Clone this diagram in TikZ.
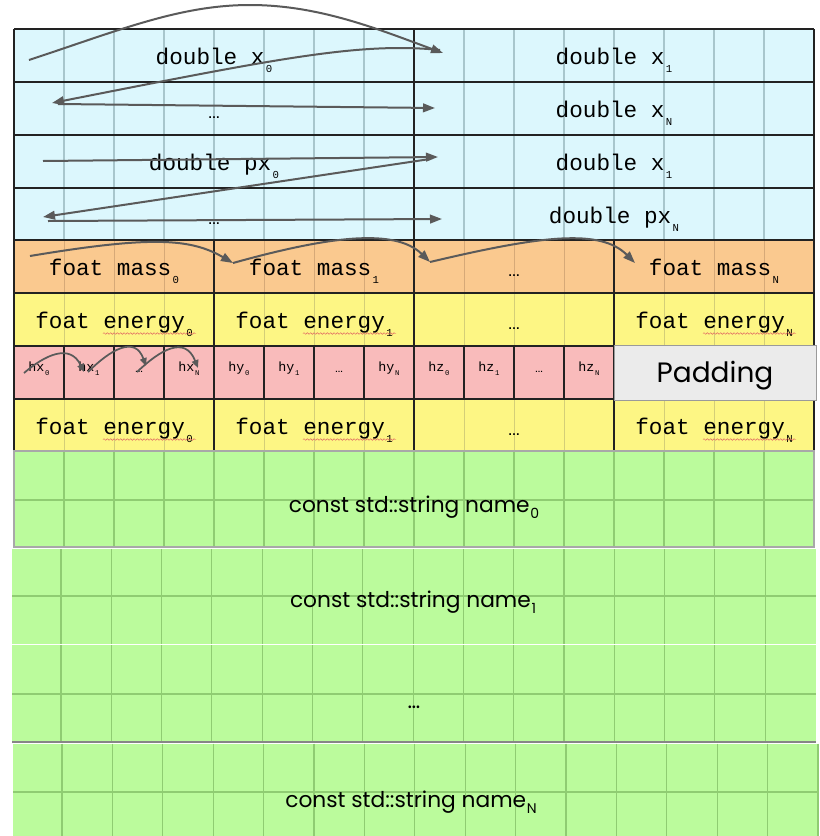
\documentclass[tikz,border=0pt]{standalone}
\usepackage{fontspec}
\setmainfont{Poppins}
\newfontfamily\monof{Liberation Mono}
\newfontfamily\sansf{Liberation Sans}
\usetikzlibrary{arrows.meta,decorations.pathmorphing}
\definecolor{cyanfill}{HTML}{DCF7FD}
\definecolor{cyangrid}{HTML}{A8C6CC}
\definecolor{orangefill}{HTML}{FAC98F}
\definecolor{orangegrid}{HTML}{D6A978}
\definecolor{yellowfill}{HTML}{FDF684}
\definecolor{yellowgrid}{HTML}{D4CE78}
\definecolor{pinkfill}{HTML}{F9BBBB}
\definecolor{greenfill}{HTML}{BBFB9C}
\definecolor{greengrid}{HTML}{8FCC72}
\definecolor{padfill}{HTML}{EBEBEB}
\definecolor{padline}{HTML}{9A9A9A}
\definecolor{cellline}{HTML}{222222}
\definecolor{arrowc}{HTML}{5A5A5A}
\definecolor{wavyred}{HTML}{E06060}
\definecolor{gborder}{HTML}{A8A8A8}
\newcommand\msub[1]{\kern1pt\raisebox{-6pt}{\fontsize{8}{8}\selectfont #1}}
\newcommand\psub[1]{\kern0.5pt\raisebox{-3pt}{\fontsize{5.5}{5.5}\selectfont #1}}
\newcommand\gsub[1]{\kern0.5pt\raisebox{-5pt}{\fontsize{10.5}{10.5}\selectfont #1}}
\tikzset{
 mono/.style={font=\monof\fontsize{17}{17}\selectfont, inner sep=0pt, anchor=base},
 pmono/.style={font=\monof\fontsize{10}{10}\selectfont, inner sep=0pt, anchor=base},
 dotsm/.style={font=\sansf\bfseries\fontsize{9}{9}\selectfont, inner sep=0pt, anchor=base},
 pdots/.style={font=\sansf\bfseries\fontsize{6}{6}\selectfont, inner sep=0pt, anchor=base},
 gtext/.style={font=\fontsize{16.3}{16.3}\selectfont, inner sep=0pt, anchor=base},
 flow/.style={draw=arrowc, line width=1.5pt, -{Triangle[length=9pt,width=6.5pt]}},
 pflow/.style={draw=arrowc, line width=1.3pt, -{Triangle[length=6pt,width=5pt]}},
 cell/.style={draw=cellline, line width=0.9pt},
 wavy/.style={draw=wavyred, line width=0.35pt, decorate, decoration={snake, amplitude=0.6pt, segment length=2.5pt}},
}
\begin{document}
\begin{tikzpicture}[x=0.75pt,y=-0.75pt]
\useasboundingbox (0,0) rectangle (819,836);
\fill[white] (0,0) rectangle (819,836);
% fills
\fill[cyanfill] (14,29) rectangle (814,240);
\fill[orangefill] (14,240) rectangle (814,293);
\fill[yellowfill] (14,293) rectangle (814,346);
\fill[pinkfill] (14,346) rectangle (614,399);
\fill[yellowfill] (14,399) rectangle (814,451);
% grids
\foreach \x in {64,114,...,764} {
  \draw[cyangrid, line width=0.8pt] (\x,29) -- (\x,240);
  \draw[orangegrid, line width=0.6pt] (\x,240) -- (\x,293);
  \draw[yellowgrid, line width=0.6pt] (\x,293) -- (\x,346);
  \draw[yellowgrid, line width=0.6pt] (\x,399) -- (\x,451);
}
% cell lines
\foreach \y in {29,82,135,188,240,293,346,399,451} \draw[cell] (14,\y) -- (814,\y);
\draw[cell] (14,29) -- (14,451);
\draw[cell] (814,29) -- (814,451);
\draw[cell] (414,29) -- (414,240);
\foreach \x in {214,414,614} {
  \draw[cell] (\x,240) -- (\x,346);
  \draw[cell] (\x,399) -- (\x,451);
}
\foreach \x in {64,114,...,614} \draw[cell] (\x,346) -- (\x,399);
% padding
\node[draw=padline, fill=padfill, line width=0.9pt, minimum width=151.5pt, minimum height=41.25pt, inner sep=0pt, anchor=north west] (pad) at (614,345) {};
\node[font=\fontsize{21}{21}\selectfont, inner sep=0pt, anchor=base] (padt) at (715,382) {Padding};
% green rows
\fill[greenfill] (14,451) rectangle (814,547);
\foreach \x in {64,114,...,764} \draw[greengrid, line width=0.8pt] (\x,451) -- (\x,547);
\draw[greengrid, line width=0.8pt] (14,500) -- (814,500);
\draw[gborder, line width=0.8pt] (14,451) rectangle (814,547);
\fill[greenfill] (12,549) rectangle (816,644);
\foreach \k in {0,...,14} \draw[greengrid, line width=0.8pt] ({61+50.3*\k},549) -- ({61+50.3*\k},644);
\draw[greengrid, line width=0.8pt] (12,596) -- (816,596);
\fill[greenfill] (12,645) rectangle (816,742);
\foreach \k in {0,...,14} \draw[greengrid, line width=0.8pt] ({61+50.3*\k},645) -- ({61+50.3*\k},742);
\draw[greengrid, line width=0.8pt] (12,694) -- (816,694);
\draw[gborder!80!black, line width=1.2pt] (12,742) -- (816,742);
\fill[greenfill] (13,743.5) rectangle (819,836);
\foreach \k in {0,...,15} \draw[greengrid, line width=0.8pt] ({62+50.4*\k},743.5) -- ({62+50.4*\k},836);
\draw[greengrid, line width=0.8pt] (13,792) -- (819,792);
% cyan texts
\node[mono] (x0) at (214,64) {double x\msub{0}};
\node[mono] (x1) at (614,64) {double x\msub{1}};
\node[dotsm] (xd) at (214,118) {…};
\node[mono] (xN) at (614,117) {double x\msub{N}};
\node[mono] (px0) at (214,170) {double px\msub{0}};
\node[mono] (x1b) at (614,170) {double x\msub{1}};
\node[dotsm] (pxd) at (214,224) {…};
\node[mono] (pxN) at (614,223) {double px\msub{N}};
% orange
\node[mono] (m0) at (114,275) {foat mass\msub{0}};
\node[mono] (m1) at (314,275) {foat mass\msub{1}};
\node[dotsm] (md) at (514,276) {…};
\node[mono] (mN) at (714,275) {foat mass\msub{N}};
% yellow
\node[mono] (e0) at (114,328) {foat energy\msub{0}};
\node[mono] (e1) at (314,328) {foat energy\msub{1}};
\node[dotsm] (ed) at (514,329) {…};
\node[mono] (eN) at (714,328) {foat energy\msub{N}};
\node[mono] (f0) at (114,434) {foat energy\msub{0}};
\node[mono] (f1) at (314,434) {foat energy\msub{1}};
\node[dotsm] (fd) at (514,435) {…};
\node[mono] (fN) at (714,434) {foat energy\msub{N}};
\foreach \c/\b in {114/328,314/328,714/328,114/434,314/434,714/434}
  \draw[wavy] (\c-11,\b+5.5) -- (\c+82,\b+5.5);
% pink
\node[pmono] (hx0) at (39,371) {hx\psub{0}};
\node[pmono] (hx1) at (89,371) {hx\psub{1}};
\node[pdots] (hxd) at (139,372) {…};
\node[pmono] (hxN) at (189,371) {hx\psub{N}};
\node[pmono] (hy0) at (239,371) {hy\psub{0}};
\node[pmono] (hy1) at (289,371) {hy\psub{1}};
\node[pdots] (hyd) at (339,372) {…};
\node[pmono] (hyN) at (389,371) {hy\psub{N}};
\node[pmono] (hz0) at (439,371) {hz\psub{0}};
\node[pmono] (hz1) at (489,371) {hz\psub{1}};
\node[pdots] (hzd) at (539,372) {…};
\node[pmono] (hzN) at (589,371) {hz\psub{N}};
% green texts
\node[gtext] (n0) at (414,512) {const std::string name\gsub{0}};
\node[gtext] (n1) at (413,607) {const std::string name\gsub{1}};
\node[gtext] (nd) at (414,708) {…};
\node[gtext] (nN) at (411,807) {const std::string name\gsub{N}};
% arrow coordinates
\coordinate (a1s) at (29,60); \coordinate (a1p) at (250,5); \coordinate (a1e) at (443,53);
\coordinate (a2s) at (440,50); \coordinate (a2e) at (52,103);
\coordinate (a3s) at (58,104); \coordinate (a3e) at (435,108);
\coordinate (a4s) at (43,161); \coordinate (a4e) at (438,157);
\coordinate (a5s) at (430,159); \coordinate (a5e) at (43,217);
\coordinate (a6s) at (48,221); \coordinate (a6e) at (442,219);
\coordinate (a7s) at (30,256); \coordinate (a7e) at (233,263);
\coordinate (a8e) at (430,262);
\coordinate (a9e) at (635,263);
\coordinate (b1s) at (24,373); \coordinate (b1e) at (84,372);
\coordinate (b2s) at (88,372); \coordinate (b2e) at (146,366);
\coordinate (b3s) at (137,372); \coordinate (b3e) at (198,368);
% arrows
\draw[flow] (a1s) .. controls (120,30) and (180,5) .. (a1p) .. controls (320,5) and (380,30) .. (a1e);
\draw[flow] (a2s) .. controls (360,42) and (280,58) .. (a2e);
\draw[flow] (a3s) -- (a3e);
\draw[flow] (a4s) -- (a4e);
\draw[flow] (a5s) -- (a5e);
\draw[flow] (a6s) -- (a6e);
\draw[flow] (a7s) .. controls (150,236) and (190,238) .. (a7e);
\draw[flow] (a7e) .. controls (330,236) and (395,228) .. (a8e);
\draw[flow] (a8e) .. controls (540,236) and (600,228) .. (a9e);
\draw[pflow] (b1s) .. controls (45,355) and (70,343) .. (b1e);
\draw[pflow] (b2s) .. controls (110,350) and (135,335) .. (b2e);
\draw[pflow] (b3s) .. controls (160,350) and (185,335) .. (b3e);
\end{tikzpicture}
\end{document}
